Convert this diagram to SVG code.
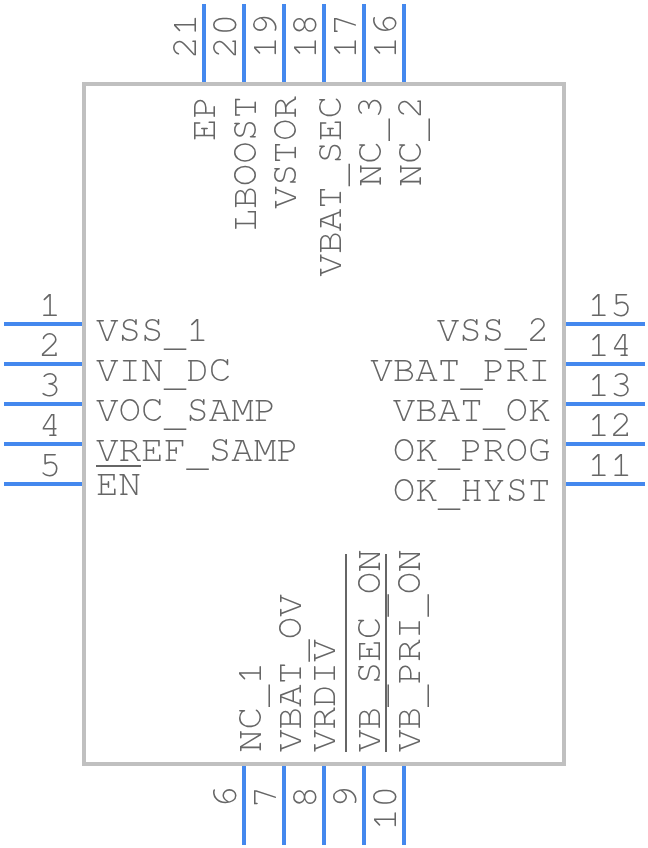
<svg xmlns="http://www.w3.org/2000/svg" width="648" height="848" viewBox="0 0 648 848" style="will-change:transform">
<style>
text{font-family:"FreeMono","Liberation Mono",monospace;font-size:37.6px;fill:#666666}
.e{text-anchor:end}
.m{text-anchor:middle}
.pin{stroke:#4488ee;stroke-width:4;fill:none}
.bar{stroke:#666666;stroke-width:2;fill:none}
</style>
<rect width="648" height="848" fill="#ffffff"/>
<g id="body"><rect x="84" y="84" width="480" height="680" fill="none" stroke="#c0c0c0" stroke-width="4"/></g>
<g id="connectors">
<path class="pin" d="M4 324H82M4 364H82M4 404H82M4 444H82M4 484H82"/>
<path class="pin" d="M566 324H645M566 364H645M566 404H645M566 444H645M566 484H645"/>
<path class="pin" d="M204 4V82M244 4V82M284 4V82M324 4V82M364 4V82M404 4V82"/>
<path class="pin" d="M244 766V845M284 766V845M324 766V845M364 766V845M404 766V845"/>
</g>
<g id="overbars">
<path class="bar" d="M96 466H141M346 554V752M386 554V752"/>
</g>
<g id="left-labels">
<text x="96" y="341">VSS<tspan dy="5">_</tspan><tspan dy="-5">1</tspan></text>
<text x="96" y="381">VIN<tspan dy="5">_</tspan><tspan dy="-5">DC</tspan></text>
<text x="96" y="421">VOC<tspan dy="5">_</tspan><tspan dy="-5">SAMP</tspan></text>
<text x="96" y="461">VREF<tspan dy="5">_</tspan><tspan dy="-5">SAMP</tspan></text>
<text x="96" y="495">EN</text>
</g>
<g id="right-labels">
<text class="e" x="549.5" y="341">VSS<tspan dy="5">_</tspan><tspan dy="-5">2</tspan></text>
<text class="e" x="550.5" y="381">VBAT<tspan dy="5">_</tspan><tspan dy="-5">PRI</tspan></text>
<text class="e" x="550.5" y="421">VBAT<tspan dy="5">_</tspan><tspan dy="-5">OK</tspan></text>
<text class="e" x="550.5" y="461">OK<tspan dy="5">_</tspan><tspan dy="-5">PROG</tspan></text>
<text class="e" x="550.5" y="501">OK<tspan dy="5">_</tspan><tspan dy="-5">HYST</tspan></text>
</g>
<g id="left-numbers">
<text class="m" x="50" y="316">1</text>
<text class="m" x="50" y="356">2</text>
<text class="m" x="50" y="396">3</text>
<text class="m" x="50" y="436">4</text>
<text class="m" x="50" y="476">5</text>
</g>
<g id="right-numbers">
<text class="m" x="610" y="316">15</text>
<text class="m" x="610" y="356">14</text>
<text class="m" x="610" y="396">13</text>
<text class="m" x="610" y="436">12</text>
<text class="m" x="610" y="476">11</text>
</g>
<g id="top-numbers">
<text class="m" transform="translate(196 36) rotate(-90)">21</text>
<text class="m" transform="translate(236 36) rotate(-90)">20</text>
<text class="m" transform="translate(276 36) rotate(-90)">19</text>
<text class="m" transform="translate(316 36) rotate(-90)">18</text>
<text class="m" transform="translate(356 36) rotate(-90)">17</text>
<text class="m" transform="translate(396 36) rotate(-90)">16</text>
</g>
<g id="bottom-numbers">
<text class="m" transform="translate(236 797) rotate(-90)">6</text>
<text class="m" transform="translate(276 797) rotate(-90)">7</text>
<text class="m" transform="translate(316 797) rotate(-90)">8</text>
<text class="m" transform="translate(356 797) rotate(-90)">9</text>
<text class="m" transform="translate(396 808) rotate(-90)">10</text>
</g>
<g id="top-labels">
<text class="e" transform="translate(215 96) rotate(-90)">EP</text>
<text class="e" transform="translate(256 96) rotate(-90)">LBOOST</text>
<text class="e" transform="translate(296 96) rotate(-90)">VSTOR</text>
<text class="e" transform="translate(341 96) rotate(-90)">VBAT<tspan dy="5">_</tspan><tspan dy="-5">SEC</tspan></text>
<text class="e" transform="translate(381 96) rotate(-90)">NC<tspan dy="5">_</tspan><tspan dy="-5">3</tspan></text>
<text class="e" transform="translate(421 96) rotate(-90)">NC<tspan dy="5">_</tspan><tspan dy="-5">2</tspan></text>
</g>
<g id="bottom-labels">
<text transform="translate(261 752) rotate(-90)">NC<tspan dy="5">_</tspan><tspan dy="-5">1</tspan></text>
<text transform="translate(301 752) rotate(-90)">VBAT<tspan dy="5">_</tspan><tspan dy="-5">OV</tspan></text>
<text transform="translate(335 752) rotate(-90)">VRDIV</text>
<text transform="translate(380 752) rotate(-90)">VB<tspan dy="5">_</tspan><tspan dy="-5">SEC</tspan><tspan dy="5">_</tspan><tspan dy="-5">ON</tspan></text>
<text transform="translate(420 752) rotate(-90)">VB<tspan dy="5">_</tspan><tspan dy="-5">PRI</tspan><tspan dy="5">_</tspan><tspan dy="-5">ON</tspan></text>
</g>
</svg>
